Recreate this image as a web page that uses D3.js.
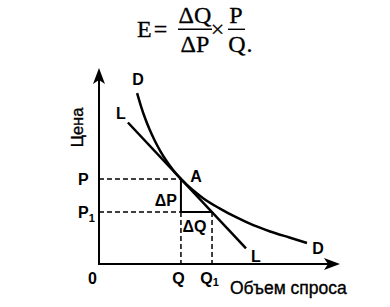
<!DOCTYPE html>
<html>
<head>
<meta charset="utf-8">
<script src="https://cdn.jsdelivr.net/npm/d3@7"></script>
<style>
  html, body { margin: 0; padding: 0; background: #fff; }
  svg { display: block; }
</style>
</head>
<body>
<svg id="chart" width="390" height="307"></svg>
<script>
// Demand curve D, sampled as (quantity, price) pairs
const demandQ = [1.58, 1.75, 1.91, 2.10, 2.30, 2.55, 2.80, 3.10, 3.40, 3.90, 4.32, 5.00, 5.73, 6.40, 7.10, 7.90, 8.63];
const demandP = [8.72, 8.02, 7.45, 6.86, 6.33, 5.75, 5.26, 4.76, 4.34, 3.76, 3.36, 2.84, 2.36, 1.98, 1.66, 1.35, 1.07];
// Straight line L, tangent to D at point A
const tangentQ = [1.20, 6.10];
const tangentP = [7.22, 0.80];
// Marked price and quantity levels
const priceLevels = [4.34, 2.65];
const priceNames = [["P", ""], ["P", "1"]];
const quantityLevels = [3.40, 4.69];
const quantityNames = [["Q", ""], ["Q", "1"]];
const xTitle = "Объем спроса";
const yTitle = "Цена";

const svg = d3.select("#chart");
const sans = "'Liberation Sans', Arial, Helvetica, sans-serif";
const serif = "'Liberation Serif', 'Times New Roman', serif";

const x = d3.scaleLinear().domain([0, 10]).range([99, 340]);
const y = d3.scaleLinear().domain([0, 10]).range([264, 68]);

// ---- formula: E = ΔQ/ΔP × P/Q.
const f = svg.append("g").attr("font-family", serif).attr("font-size", 24).attr("fill", "#000")
  .attr("stroke", "#000").attr("stroke-width", 0.3);
f.append("text").attr("x", 137).attr("y", 37).text("E");
f.append("text").attr("x", 160.5).attr("y", 37).attr("text-anchor", "middle").text("=");
f.append("text").attr("x", 195).attr("y", 22.5).attr("text-anchor", "middle").text("ΔQ");
f.append("line").attr("x1", 178).attr("x2", 212).attr("y1", 29.3).attr("y2", 29.3).attr("stroke-width", 1.4);
f.append("text").attr("x", 195).attr("y", 51.5).attr("text-anchor", "middle").text("ΔP");
f.append("text").attr("x", 217.5).attr("y", 37).attr("text-anchor", "middle").text("×");
f.append("text").attr("x", 236).attr("y", 22.5).attr("text-anchor", "middle").text("P");
f.append("line").attr("x1", 228).attr("x2", 245).attr("y1", 29.3).attr("y2", 29.3).attr("stroke-width", 1.4);
f.append("text").attr("x", 237).attr("y", 51.5).attr("text-anchor", "middle").text("Q");
f.append("text").attr("x", 246.5).attr("y", 51.5).text(".");

// ---- axes
const axes = svg.append("g").attr("stroke", "#000").attr("stroke-width", 2).attr("fill", "none");
axes.append("line").attr("x1", x(0)).attr("y1", y(0)).attr("x2", x(0)).attr("y2", y(9.4));
axes.append("line").attr("x1", x(0) - 1).attr("y1", y(0)).attr("x2", x(9.5)).attr("y2", y(0));
// arrowheads
const ax = x(0), ty = y(10);
svg.append("path").attr("fill", "#000")
  .attr("d", `M${ax},${ty} L${ax + 6},${ty + 16} L${ax},${ty + 12} L${ax - 6},${ty + 16} Z`);
const tx = x(10), ay = y(0);
svg.append("path").attr("fill", "#000")
  .attr("d", `M${tx},${ay} L${tx - 16},${ay - 6} L${tx - 12},${ay} L${tx - 16},${ay + 6} Z`);

// tick labels through d3 axes (no tick marks, no domain line)
const yAxis = d3.axisLeft(y).tickValues(priceLevels).tickSize(0).tickFormat(() => "");
const gy = svg.append("g").attr("transform", `translate(${x(0)},0)`).call(yAxis);
gy.select(".domain").remove();
gy.selectAll(".tick text")
  .attr("font-family", sans).attr("font-size", 16).attr("font-weight", "bold").attr("fill", "#000")
  .attr("text-anchor", "start").attr("x", -21).attr("dy", "0.36em")
  .each(function (d, i) {
    const t = d3.select(this);
    t.append("tspan").text(priceNames[i][0]);
    if (priceNames[i][1]) t.append("tspan").attr("font-size", 11).attr("dy", 4).text(priceNames[i][1]);
  });

const xAxis = d3.axisBottom(x).tickValues(quantityLevels).tickSize(0).tickFormat(() => "");
const gx = svg.append("g").attr("transform", `translate(0,${y(0)})`).call(xAxis);
gx.select(".domain").remove();
gx.selectAll(".tick text")
  .attr("font-family", sans).attr("font-size", 16).attr("font-weight", "bold").attr("fill", "#000")
  .attr("y", 19.5).attr("dy", 0).attr("text-anchor", "middle").attr("x", -3)
  .each(function (d, i) {
    const t = d3.select(this);
    t.append("tspan").text(quantityNames[i][0]);
    if (quantityNames[i][1]) t.append("tspan").attr("font-size", 11).attr("dy", 2).text(quantityNames[i][1]);
  });

svg.append("text").attr("x", x(0) - 6.5).attr("y", y(0) + 19.5).attr("text-anchor", "middle")
  .attr("font-family", sans).attr("font-size", 16).attr("font-weight", "bold").text("0");

// axis titles
svg.append("text").attr("x", 230).attr("y", 294)
  .attr("font-family", sans).attr("font-size", 17.5).attr("stroke", "#000").attr("stroke-width", 0.35)
  .text(xTitle);
svg.append("text").attr("transform", "translate(83,127.5) rotate(-90)").attr("text-anchor", "middle")
  .attr("font-family", sans).attr("font-size", 16.5).attr("stroke", "#000").attr("stroke-width", 0.35)
  .text(yTitle);

// ---- dashed guides to P, P1, Q, Q1
const [pA, p1] = priceLevels;
const [qA, q1] = quantityLevels;
const dash = svg.append("g").attr("stroke", "#000").attr("stroke-width", 1.5).attr("stroke-dasharray", "5,3");
dash.append("line").attr("x1", x(0)).attr("x2", x(qA)).attr("y1", y(pA)).attr("y2", y(pA));
dash.append("line").attr("x1", x(0)).attr("x2", x(qA)).attr("y1", y(p1)).attr("y2", y(p1));
dash.append("line").attr("x1", x(qA)).attr("x2", x(qA)).attr("y1", y(p1)).attr("y2", y(0));
dash.append("line").attr("x1", x(q1)).attr("x2", x(q1)).attr("y1", y(p1)).attr("y2", y(0));

// solid legs ΔP and ΔQ
const legs = svg.append("g").attr("stroke", "#000").attr("stroke-width", 2);
legs.append("line").attr("x1", x(qA)).attr("x2", x(qA)).attr("y1", y(pA)).attr("y2", y(p1));
legs.append("line").attr("x1", x(qA)).attr("x2", x(q1)).attr("y1", y(p1)).attr("y2", y(p1));

// ---- curves
const line = d3.line().x(d => x(d[0])).y(d => y(d[1]));
svg.append("path").datum(tangentQ.map((q, i) => [q, tangentP[i]]))
  .attr("d", line).attr("fill", "none").attr("stroke", "#000").attr("stroke-width", 2.5);
svg.append("path").datum(demandQ.map((q, i) => [q, demandP[i]]))
  .attr("d", line.curve(d3.curveMonotoneX)).attr("fill", "none")
  .attr("stroke", "#000").attr("stroke-width", 2.5);

// ---- curve and point labels
const lab = svg.append("g").attr("font-family", sans).attr("font-size", 16).attr("font-weight", "bold")
  .attr("text-anchor", "middle").attr("fill", "#000");
lab.append("text").attr("x", 138).attr("y", 85).text("D");
lab.append("text").attr("x", 121).attr("y", 119).text("L");
lab.append("text").attr("x", x(qA) + 15).attr("y", y(pA) + 3.5).text("A");
lab.append("text").attr("x", x(qA) - 15).attr("y", 205.5).text("ΔP");
lab.append("text").attr("x", x(qA) + 13.5).attr("y", 231.5).text("ΔQ");
lab.append("text").attr("x", 256).attr("y", 261.5).text("L");
lab.append("text").attr("x", 318).attr("y", 254).text("D");
</script>
</body>
</html>
